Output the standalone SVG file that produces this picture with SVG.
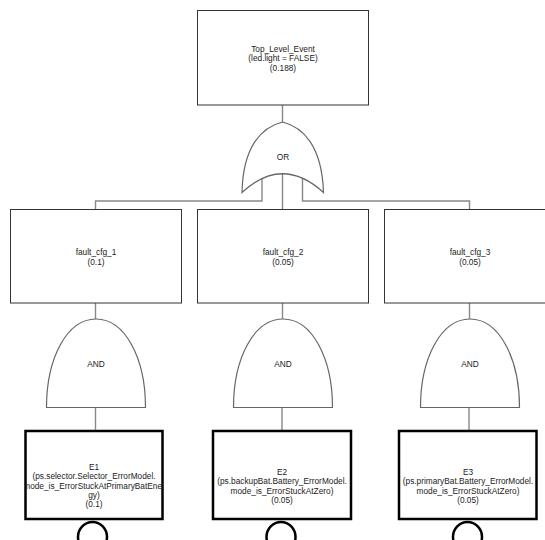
<svg xmlns="http://www.w3.org/2000/svg" width="545" height="540" viewBox="0 0 545 540">
<style>
text{font-family:"Liberation Sans",Arial,sans-serif;font-size:8.3px;fill:#222;text-anchor:middle;dominant-baseline:central}
.box{fill:#fff;stroke:#333;stroke-width:1}
.ebox{fill:#fff;stroke:#000;stroke-width:2.5}
.gate{fill:#fff;stroke:#666;stroke-width:1.2}
.conn{fill:none;stroke:#888;stroke-width:1.4}
.circ{fill:#fff;stroke:#000;stroke-width:2.5}
</style>
<defs>
<clipPath id="c1"><rect x="25.5" y="431" width="137" height="88"/></clipPath>
</defs>
<rect width="545" height="540" fill="#fff"/>
<g id="connectors">
<line class="conn" x1="282.5" y1="105" x2="282.5" y2="122"/>
<polyline class="conn" points="262,178 262,201 95.5,201 95.5,209"/>
<line class="conn" x1="282.5" y1="173.5" x2="282.5" y2="209"/>
<polyline class="conn" points="302.5,178 302.5,201 469.5,201 469.5,209"/>
<line class="conn" x1="95.5" y1="303" x2="95.5" y2="319"/>
<line class="conn" x1="282.5" y1="303" x2="282.5" y2="319"/>
<line class="conn" x1="469.5" y1="303" x2="469.5" y2="319"/>
<line class="conn" x1="95.5" y1="407" x2="95.5" y2="430"/>
<line class="conn" x1="282" y1="407" x2="282" y2="430"/>
<line class="conn" x1="469" y1="407" x2="469" y2="430"/>
</g>
<g id="top_event">
<rect class="box" x="197.5" y="10.5" width="171" height="94.5"/>
<text x="283" y="48.7">Top_Level_Event</text>
<text x="283" y="58.2">(led.light = FALSE)</text>
<text x="283" y="67.7">(0.188)</text>
</g>
<g id="or_gate">
<path class="gate" d="M282.5,122 C303,127 322,146 323.5,192.5 Q282.5,155 242,192.5 C243,146 262,127 282.5,122 Z"/>
<text x="283" y="157">OR</text>
</g>
<g id="fault_cfg_1">
<rect class="box" x="10.5" y="209.5" width="171" height="93.5"/>
<text x="96" y="252.3">fault_cfg_1</text>
<text x="96" y="261.7">(0.1)</text>
</g>
<g id="fault_cfg_2">
<rect class="box" x="197.5" y="209.5" width="171" height="93.5"/>
<text x="283" y="252.3">fault_cfg_2</text>
<text x="283" y="261.7">(0.05)</text>
</g>
<g id="fault_cfg_3">
<rect class="box" x="384.5" y="209.5" width="171" height="93.5"/>
<text x="470" y="252.3">fault_cfg_3</text>
<text x="470" y="261.7">(0.05)</text>
</g>
<g id="and_1">
<path class="gate" d="M46.5,407.5 C46.5,358 67,319 96,319 C125,319 145.5,358 145.5,407.5 Z"/>
<text x="96" y="364">AND</text>
</g>
<g id="and_2">
<path class="gate" d="M233.5,407.5 C233.5,358 254,319 283,319 C312,319 332.5,358 332.5,407.5 Z"/>
<text x="283" y="363.5">AND</text>
</g>
<g id="and_3">
<path class="gate" d="M420.5,407.5 C420.5,358 441,319 470,319 C499,319 519.5,358 519.5,407.5 Z"/>
<text x="470" y="363.5">AND</text>
</g>
<g id="E1">
<rect class="ebox" x="25.5" y="431" width="137" height="88"/>
<g clip-path="url(#c1)">
<text x="94" y="466.7">E1</text>
<text x="94" y="476.1">(ps.selector.Selector_ErrorModel.</text>
<text x="94" y="485.5">mode_is_ErrorStuckAtPrimaryBatEner</text>
<text x="94" y="494.9">gy)</text>
<text x="94" y="504.3">(0.1)</text>
</g>
<ellipse class="circ" cx="92.5" cy="537" rx="14.5" ry="15"/>
</g>
<g id="E2">
<rect class="ebox" x="213" y="431" width="138" height="88"/>
<text x="282" y="471.7">E2</text>
<text x="282" y="481.1">(ps.backupBat.Battery_ErrorModel.</text>
<text x="282" y="490.5">mode_is_ErrorStuckAtZero)</text>
<text x="282" y="499.9">(0.05)</text>
<ellipse class="circ" cx="281" cy="537" rx="14.5" ry="15"/>
</g>
<g id="E3">
<rect class="ebox" x="399" y="431" width="137.5" height="88"/>
<text x="468" y="471.7">E3</text>
<text x="468" y="481.1">(ps.primaryBat.Battery_ErrorModel.</text>
<text x="468" y="490.5">mode_is_ErrorStuckAtZero)</text>
<text x="468" y="499.9">(0.05)</text>
<ellipse class="circ" cx="467.5" cy="537" rx="14.5" ry="15"/>
</g>
</svg>
